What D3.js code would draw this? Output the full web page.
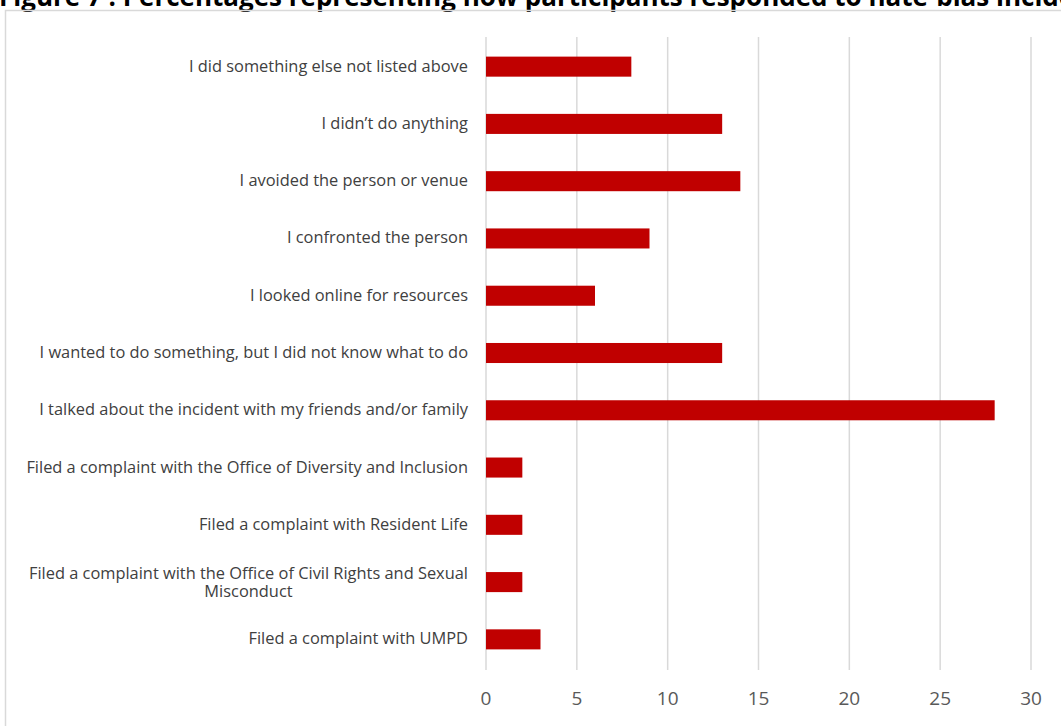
<!DOCTYPE html>
<html>
<head>
<meta charset="utf-8">
<script src="https://cdn.jsdelivr.net/npm/d3@7"></script>
<style>
  body { margin: 0; background: #fff; }
  svg { display: block; font-family: "Open Sans", "Liberation Sans", sans-serif; }
</style>
</head>
<body>
<svg id="chart" width="1061" height="726"></svg>
<script>
// responses, top to bottom as shown
const categories = [
  "I did something else not listed above",
  "I didn\u2019t do anything",
  "I avoided the person or venue",
  "I confronted the person",
  "I looked online for resources",
  "I wanted to do something, but I did not know what to do",
  "I talked about the incident with my friends and/or family",
  "Filed a complaint with the Office of Diversity and Inclusion",
  "Filed a complaint with Resident Life",
  "Filed a complaint with the Office of Civil Rights and Sexual|Misconduct",
  "Filed a complaint with UMPD"
];
const values = [8, 13, 14, 9, 6, 13, 28, 2, 2, 2, 3];
const ticks = [0, 5, 10, 15, 20, 25, 30];

const svg = d3.select('#chart');

// title, mostly cut off at the top of the page
svg.append('text')
  .attr('x', -1)
  .attr('y', 6)
  .attr('font-size', 26)
  .attr('font-weight', 'bold')
  .attr('fill', '#000')
  .text('Figure 7 : Percentages representing how participants responded to hate-bias incidents');

// chart frame
svg.append('rect')
  .attr('x', 5.5).attr('y', 10.5)
  .attr('width', 1100).attr('height', 800)
  .attr('fill', 'none')
  .attr('stroke', '#d9d9d9')
  .attr('stroke-width', 1.5);

const x = d3.scaleLinear().domain([0, 30]).range([486, 1031]);
const y = d3.scaleBand()
  .domain(categories)
  .range([38, 668])
  .paddingInner(0.65)
  .paddingOuter(0.325);

// gridlines
svg.append('g')
  .selectAll('line')
  .data(ticks)
  .enter()
  .append('line')
  .attr('x1', d => x(d)).attr('x2', d => x(d))
  .attr('y1', 37).attr('y2', 670)
  .attr('stroke', '#d9d9d9')
  .attr('stroke-width', 1.5);

// bars
svg.append('g')
  .selectAll('rect')
  .data(values)
  .enter()
  .append('rect')
  .attr('x', x(0))
  .attr('y', (d, i) => y(categories[i]))
  .attr('width', d => x(d) - x(0))
  .attr('height', y.bandwidth())
  .attr('fill', '#c00000');

// x tick labels
svg.append('g')
  .selectAll('text')
  .data(ticks)
  .enter()
  .append('text')
  .attr('x', d => x(d))
  .attr('y', 705)
  .attr('text-anchor', 'middle')
  .attr('font-size', 19)
  .attr('fill', '#595959')
  .text(d => d);

// category labels
const fs = 16.4;
const labels = svg.append('g')
  .selectAll('g')
  .data(categories)
  .enter()
  .append('g');

labels.each(function(d) {
  const g = d3.select(this);
  const lines = d.split('|');
  const cy = y(d) + y.bandwidth() / 2;
  if (lines.length === 1) {
    g.append('text')
      .attr('x', 468).attr('y', cy + 5)
      .attr('text-anchor', 'end')
      .attr('font-size', fs)
      .attr('fill', '#404040')
      .text(d);
  } else {
    const t1 = g.append('text')
      .attr('x', 468).attr('y', cy - 3)
      .attr('text-anchor', 'end')
      .attr('font-size', fs)
      .attr('fill', '#404040')
      .text(lines[0]);
    const w = t1.node().getComputedTextLength();
    g.append('text')
      .attr('x', 468 - w / 2).attr('y', cy + 15)
      .attr('text-anchor', 'middle')
      .attr('font-size', fs)
      .attr('fill', '#404040')
      .text(lines[1]);
  }
});
</script>
</body>
</html>
